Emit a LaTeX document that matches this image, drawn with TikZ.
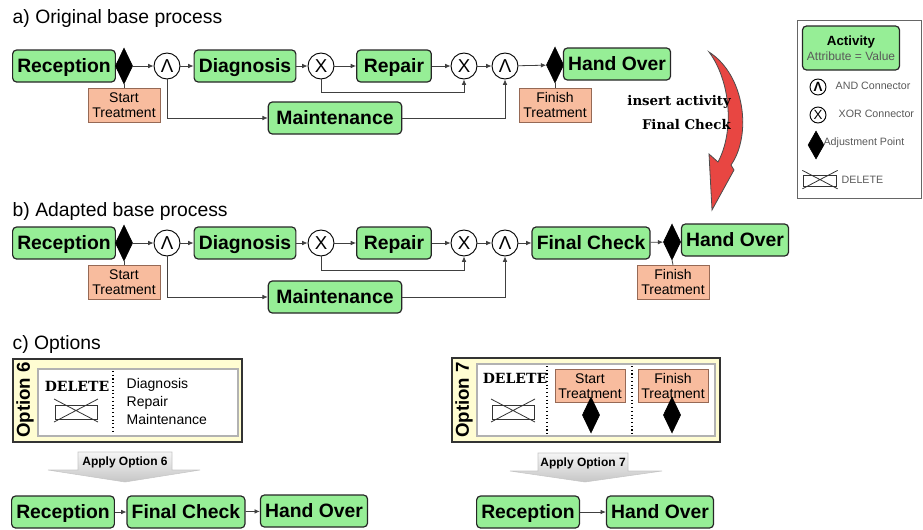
\documentclass[tikz,border=0pt]{standalone}
\usepackage{fontspec}
\setsansfont{Liberation Sans}
\newfontfamily\slabfont{DejaVu Serif}
\usetikzlibrary{shapes.geometric,arrows.meta,positioning}
\definecolor{actgreen}{RGB}{150,238,150}
\definecolor{adjsalmon}{RGB}{248,188,158}
\definecolor{adjborder}{RGB}{150,105,85}
\definecolor{optcream}{RGB}{255,253,210}
\definecolor{turnred}{RGB}{232,70,66}
\tikzset{
	delicon/.pic={
		\draw[line width=0.6pt, black!80] (-21,-6) rectangle (21,8);
		\draw[line width=0.6pt, black!80] (-22,-12) -- (22,11) (22,-12) -- (-22,11);
	}
}
\begin{document}
\begin{tikzpicture}[
		x=0.75pt, y=-0.75pt,
		every node/.style={font=\sffamily},
		activity/.style={draw=black!85, line width=0.9pt, rectangle, rounded corners=3pt, fill=actgreen, font=\sffamily\bfseries\fontsize{14.5}{16}\selectfont, minimum height=24pt, text height=10.4pt, text depth=1pt, inner xsep=3.5pt, inner ysep=0pt},
		conn/.style={draw, circle, line width=0.7pt, fill=white, minimum size=19.5pt, inner sep=0pt, font=\sffamily\fontsize{14}{14}\selectfont},
		adjpoint/.style={draw, fill=black, diamond, inner sep=0pt, minimum width=13pt, minimum height=27pt},
		adjlabel/.style={draw=adjborder, fill=adjsalmon, rectangle, align=center, font=\sffamily\fontsize{10.5}{11.5}\selectfont, inner sep=1pt, minimum width=54pt, minimum height=25.5pt},
		flow/.style={draw=black!75, line width=0.6pt, -{Latex[length=4pt,width=3.5pt]}},
		link/.style={draw=black!75, line width=0.6pt},
		title/.style={anchor=west, font=\sffamily\fontsize{14.5}{16}\selectfont},
		optbox/.style={draw=black!80, fill=optcream, line width=0.8pt, inner sep=0pt},
		optinner/.style={draw=black!30, fill=white, line width=1.5pt, inner sep=0pt},
		optname/.style={rotate=90, font=\sffamily\bfseries\fontsize{14}{16}\selectfont},
		deltext/.style={font=\slabfont\bfseries\fontsize{10.5}{12}\selectfont},
		legtext/.style={anchor=west, text=black!65, font=\sffamily\fontsize{8}{9}\selectfont},
		applyarrow/.style={top color=gray!8, bottom color=gray!45, draw=gray!45},
		applytext/.style={font=\sffamily\bfseries\fontsize{9}{10}\selectfont}
		]
		\useasboundingbox (0,0) rectangle (923,529);
		
		% a) original base process
		\node[title] (ta) at (8,18) {a) Original base process};
		\node[activity] (ra) at (64,66) {Reception};
		\node[adjpoint] (pa1) at (124,66) {};
		\node[adjlabel] (sa) at (124,105) {Start\\Treatment};
		\node[conn] (aa1) at (167,66) {Λ};
		\node[activity] (da) at (245,66) {Diagnosis};
		\node[conn] (xa1) at (321,66) {X};
		\node[activity, minimum width=56pt] (rpa) at (394,66) {Repair};
		\node[conn] (xa2) at (464,66) {X};
		\node[conn] (aa2) at (505,66) {Λ};
		\node[adjpoint] (pa2) at (555,65) {};
		\node[activity] (ha) at (617,64) {Hand Over};
		\node[adjlabel] (fa) at (555,105) {Finish\\Treatment};
		\node[activity, minimum width=100pt] (ma) at (335,118) {Maintenance};
		
		\draw[link] (pa1.south) -- (sa.north);
		\draw[link] (pa2.south) -- (fa.north);
		\draw[flow] (pa1) -- (aa1);
		\draw[flow] (aa1) -- (da);
		\draw[flow] (da) -- (xa1);
		\draw[flow] (xa1) -- (rpa);
		\draw[flow] (rpa) -- (xa2);
		\draw[flow] (xa2) -- (aa2);
		\draw[flow] (aa2) -- (pa2);
		\draw[flow] (aa1.south) |- (ma.west);
		\draw[flow] (xa1.south) -- ++(0,13) -| (xa2.south);
		\draw[flow] (ma.east) -| (aa2.south);
		
		% change
		\filldraw[fill=turnred, draw=black!70, line width=0.6pt] (709,52) .. controls (745,75) and (752,135) .. (731,165) -- (734,170) -- (712,210) -- (709,154) -- (718,162) .. controls (735,130) and (730,80) .. (709,52) -- cycle;
		\node[anchor=east, align=right, font=\slabfont\bfseries\fontsize{10}{18}\selectfont, inner sep=0pt] (ins) at (731,113) {insert activity\\Final Check};
		
		% legend
		\node[draw=black!60, line width=0.6pt, minimum width=93pt, minimum height=133.5pt, inner sep=0pt] (legend) at (859,109) {};
		\node[activity, align=center, font=\sffamily\fontsize{10}{11.5}\selectfont, text height=, text depth=, minimum width=72.75pt, minimum height=33pt, inner sep=1pt] (lact) at (851,48) {\textbf{Activity}\\{\color{black!65}\fontsize{9}{10}\selectfont Attribute = Value}};
		\node[conn, minimum size=12pt, font=\sffamily\bfseries\fontsize{10}{10}\selectfont] (land) at (818,87) {Λ};
		\node[legtext] (landt) at (831,86) {AND Connector};
		\node[conn, minimum size=12pt, font=\sffamily\fontsize{10}{10}\selectfont] (lxor) at (818,115) {X};
		\node[legtext] (lxort) at (834,114) {XOR Connector};
		\node[adjpoint, minimum width=12pt, minimum height=21pt] (ladj) at (816,145) {};
		\node[legtext, inner sep=1pt] (ladjt) at (822,143) {Adjustment Point};
		\pic[scale=0.8] at (820,180) {delicon};
		\node[legtext] (ldelt) at (837,180) {DELETE};
		
		% b) adapted base process
		\node[title] (tb) at (8,211) {b) Adapted base process};
		\node[activity] (rb) at (64,243) {Reception};
		\node[adjpoint] (pb1) at (124,243) {};
		\node[adjlabel] (sb) at (124,282) {Start\\Treatment};
		\node[conn] (ab1) at (167,243) {Λ};
		\node[activity] (db) at (245,243) {Diagnosis};
		\node[conn] (xb1) at (321,243) {X};
		\node[activity, minimum width=56pt] (rpb) at (394,243) {Repair};
		\node[conn] (xb2) at (464,243) {X};
		\node[conn] (ab2) at (505,243) {Λ};
		\node[activity] (fcb) at (591,243) {Final Check};
		\node[adjpoint] (pb2) at (672,242) {};
		\node[activity] (hb) at (735,240) {Hand Over};
		\node[adjlabel] (fb) at (673,282) {Finish\\Treatment};
		\node[activity, minimum width=100pt] (mb) at (335,297) {Maintenance};
		
		\draw[link] (pb1.south) -- (sb.north);
		\draw[link] (pb2.south) -- (fb.north);
		\draw[flow] (pb1) -- (ab1);
		\draw[flow] (ab1) -- (db);
		\draw[flow] (db) -- (xb1);
		\draw[flow] (xb1) -- (rpb);
		\draw[flow] (rpb) -- (xb2);
		\draw[flow] (xb2) -- (ab2);
		\draw[flow] (ab2) -- (fcb);
		\draw[flow] (fcb) -- (pb2);
		\draw[flow] (ab1.south) |- (mb.west);
		\draw[flow] (xb1.south) -- ++(0,14) -| (xb2.south);
		\draw[flow] (mb.east) -| (ab2.south);
		
		% c) options
		\node[title] (tc) at (8,344) {c) Options};
		
		\node[optbox, minimum width=171.75pt, minimum height=62.25pt] (o6) at (127.5,400.5) {};
		\node[optinner, minimum width=150pt, minimum height=50.25pt] (o6in) at (138,402.5) {};
		\node[optname] (o6name) at (25,400) {Option 6};
		\draw[dotted, line width=0.8pt] (113,371) -- (113,434);
		\node[deltext] (o6del) at (77,386) {DELETE};
		\pic at (76,411) {delicon};
		\node[anchor=west, align=left, font=\sffamily\fontsize{10.5}{13.5}\selectfont] (o6list) at (122,401) {Diagnosis\\Repair\\Maintenance};
		
		\shade[applyarrow] (78,452) -- (172,452) -- (172,470) -- (200,470) -- (125,482) -- (48,470) -- (78,470) -- cycle;
		\node[applytext] (ap6) at (125,462) {Apply Option 6};
		
		\node[activity] (rc) at (63,512) {Reception};
		\node[activity] (fcc) at (186,512) {Final Check};
		\node[activity] (hc) at (314,511) {Hand Over};
		\draw[flow] (rc) -- (fcc);
		\draw[flow] (fcc) -- (hc);
		
		\node[optbox, minimum width=201pt, minimum height=63pt] (o7) at (586,400) {};
		\node[optinner, minimum width=178.5pt, minimum height=54pt] (o7in) at (596,400) {};
		\node[optname] (o7name) at (464,400) {Option 7};
		\draw[dotted, line width=0.8pt] (547,366) -- (547,434);
		\draw[dotted, line width=0.8pt] (632,366) -- (632,434);
		\node[deltext] (o7del) at (515,378) {DELETE};
		\pic at (513,411) {delicon};
		\node[adjlabel, minimum width=52.5pt, minimum height=24.75pt] (o7s) at (590,386) {Start\\Treatment};
		\node[adjpoint] (o7sp) at (591,415) {};
		\node[adjlabel, minimum width=52.5pt, minimum height=24.75pt] (o7f) at (673,386) {Finish\\Treatment};
		\node[adjpoint] (o7fp) at (672,415) {};
		
		\shade[applyarrow] (538,453) -- (628,453) -- (628,471) -- (662,471) -- (585,482) -- (510,471) -- (538,471) -- cycle;
		\node[applytext] (ap7) at (583,463) {Apply Option 7};
		
		\node[activity] (rd) at (528,512) {Reception};
		\node[activity] (hd) at (660,512) {Hand Over};
		\draw[flow] (rd) -- (hd);
		
	\end{tikzpicture}
\end{document}
